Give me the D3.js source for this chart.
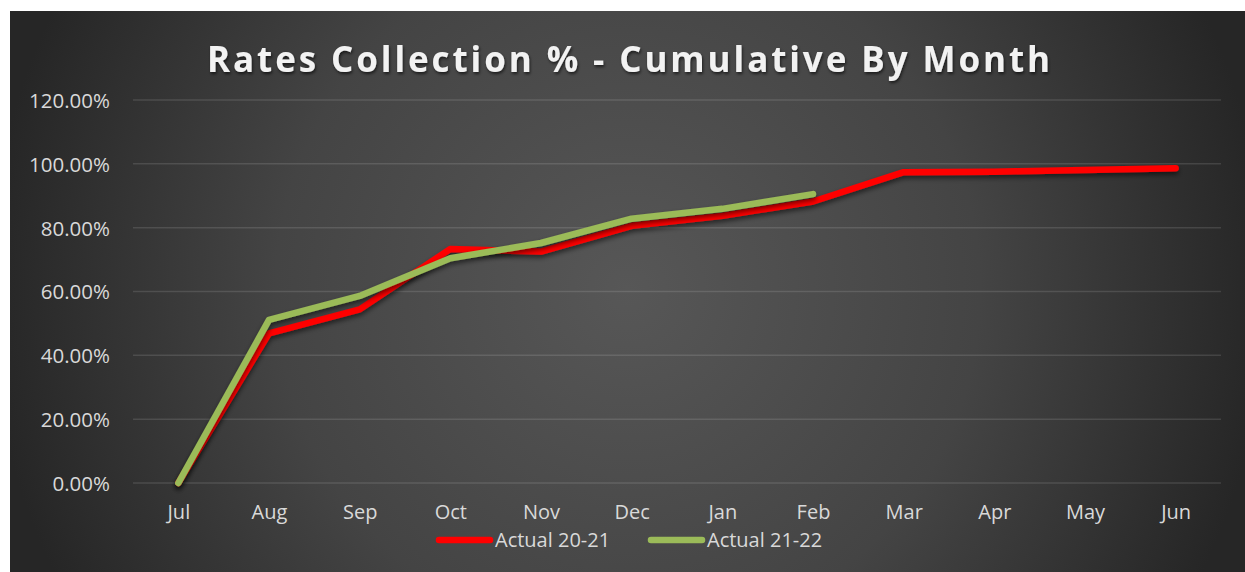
<!DOCTYPE html>
<html><head><meta charset="utf-8">
<script src="https://cdn.jsdelivr.net/npm/d3@7"></script>
<style>
html,body{margin:0;padding:0;background:#fff;}
svg{display:block;}
</style></head>
<body>
<svg id="chart" width="1245" height="572"></svg>
<script>
const months = ["Jul","Aug","Sep","Oct","Nov","Dec","Jan","Feb","Mar","Apr","May","Jun"];
const actual2021 = [0, 0.469, 0.544, 0.733, 0.725, 0.806, 0.837, 0.882, 0.974, 0.975, 0.981, 0.986];
const actual2122 = [0, 0.511, 0.586, 0.704, 0.752, 0.828, 0.859, 0.905];
const yTicks = [0, 0.2, 0.4, 0.6, 0.8, 1.0, 1.2];
const seriesNames = ["Actual 20-21", "Actual 21-22"];
const seriesColors = ["#ff0000", "#9bbb59"];

const svg = d3.select("#chart");
const defs = svg.append("defs");
const rg = defs.append("radialGradient").attr("id","bg")
  .attr("gradientUnits","userSpaceOnUse").attr("cx",628).attr("cy",290).attr("r",640);
rg.append("stop").attr("offset","0").attr("stop-color","#575757");
rg.append("stop").attr("offset","0.55").attr("stop-color","#444444");
rg.append("stop").attr("offset","1").attr("stop-color","#262626");
const sh = defs.append("filter").attr("id","shadow").attr("x","-10%").attr("y","-10%").attr("width","120%").attr("height","130%");
sh.append("feDropShadow").attr("dx",0).attr("dy",3).attr("stdDeviation",2.5).attr("flood-color","#000").attr("flood-opacity",0.55);
const tsh = defs.append("filter").attr("id","tshadow");
tsh.append("feDropShadow").attr("dx",1).attr("dy",2).attr("stdDeviation",1.5).attr("flood-color","#000").attr("flood-opacity",0.6);

svg.append("rect").attr("x",10).attr("y",11).attr("width",1235).attr("height",561).attr("fill","url(#bg)");

const x = d3.scalePoint().domain(months).range([133,1221]).padding(0.5);
const y = d3.scaleLinear().domain([0,1.2]).range([483,100]);

// gridlines
svg.append("g").selectAll("line").data(yTicks).join("line")
  .attr("x1",133).attr("x2",1221)
  .attr("y1",d=>y(d)).attr("y2",d=>y(d))
  .attr("stroke","rgba(255,255,255,0.12)").attr("stroke-width",1.5);

// y axis
const yAxis = d3.axisLeft(y).tickValues(yTicks).tickFormat(d=>(d*100).toFixed(2)+"%").tickSize(0).tickPadding(0);
const ya = svg.append("g").attr("transform","translate(110,0)").call(yAxis);
ya.select(".domain").remove();
ya.selectAll("text").attr("fill","#d9d9d9").attr("font-family","Open Sans").attr("font-size","20.5px").attr("dy","0.36em");

// x axis
const xAxis = d3.axisBottom(x).tickSize(0).tickPadding(0);
const xa = svg.append("g").attr("transform","translate(0,505)").call(xAxis);
xa.select(".domain").remove();
xa.selectAll("text").attr("fill","#d9d9d9").attr("font-family","Open Sans").attr("font-size","20px").attr("dy","0.72em");

// lines
const line = d3.line().x((d,i)=>x(months[i])).y(d=>y(d));
[actual2021, actual2122].forEach((s,k)=>{
  svg.append("path").datum(s).attr("d",line).attr("fill","none")
    .attr("stroke",seriesColors[k]).attr("stroke-width",6.5)
    .attr("stroke-linejoin","round").attr("stroke-linecap","round")
    .attr("filter","url(#shadow)");
});

// title
svg.append("text").attr("x",207).attr("y",72)
  .attr("textLength",843).attr("lengthAdjust","spacing")
  .attr("fill","#f2f2f2").attr("font-family","Open Sans").attr("font-weight","bold")
  .attr("font-size","35px").attr("filter","url(#tshadow)")
  .text("Rates Collection % - Cumulative By Month");

// legend
const legX = [436, 648];
seriesNames.forEach((n,k)=>{
  const g = svg.append("g");
  g.append("line").attr("x1",legX[k]+3).attr("x2",legX[k]+54).attr("y1",540).attr("y2",540)
    .attr("stroke",seriesColors[k]).attr("stroke-width",6.5).attr("stroke-linecap","round");
  g.append("text").attr("x",legX[k]+59).attr("y",547).attr("fill","#d9d9d9")
    .attr("font-family","Open Sans").attr("font-size","20px").text(n);
});
</script>
</body></html>
